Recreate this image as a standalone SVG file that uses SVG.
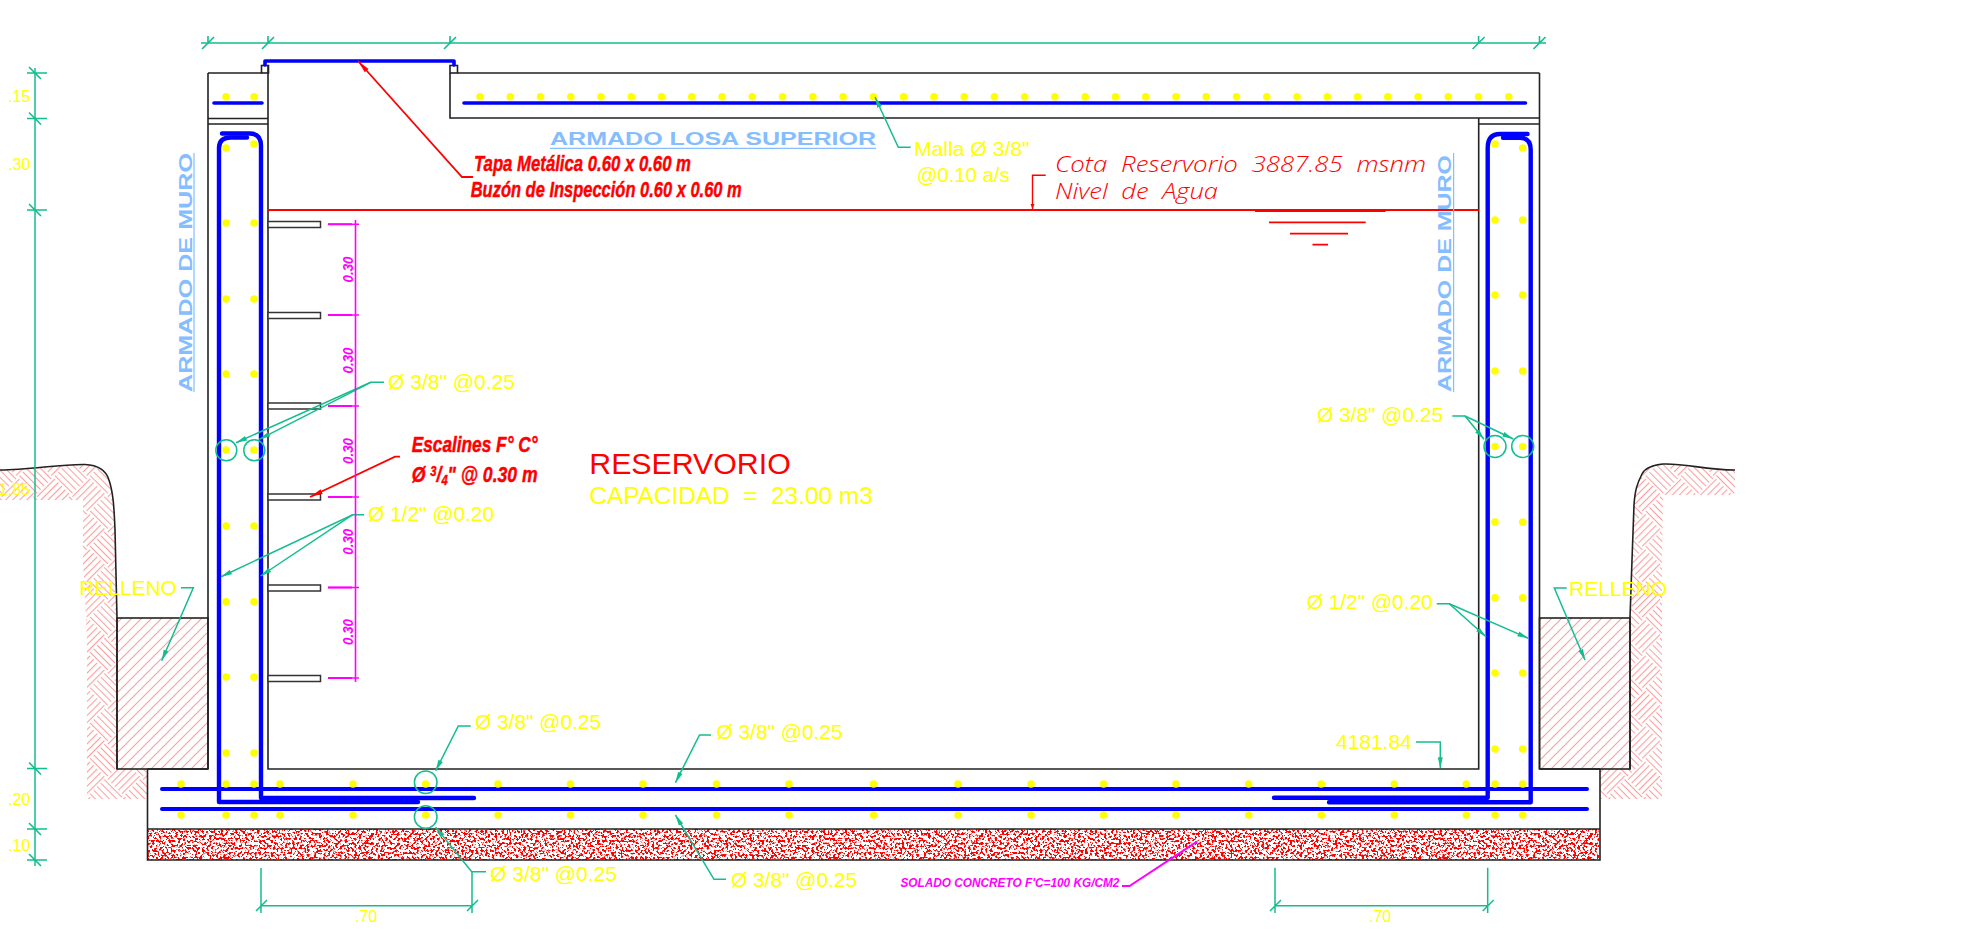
<svg xmlns="http://www.w3.org/2000/svg" width="1971" height="944" viewBox="0 0 1971 944">
<style>
text{font-family:"Liberation Sans",Arial,sans-serif}
.y{fill:#ffff00;font-size:21px}
.yd{fill:#ffff00;font-size:16px}
.b{fill:#85bdff;font-size:19px;font-weight:bold}
.r{fill:#ff0000;stroke:#ff0000;stroke-width:.45;font-size:22px;font-weight:bold;font-style:italic}
.c{fill:#ff0000;font-size:22px;font-style:italic;font-weight:300;font-family:"Open Sans","Liberation Sans",sans-serif}
.m{fill:#ff00ff;font-style:italic;font-weight:bold;font-size:14px}
.l{fill:none;stroke:#222;stroke-width:1.6}
.g{fill:none;stroke:#14bd8f;stroke-width:1.5}
.ga{fill:none;stroke:#14bd8f;stroke-width:1.5;marker-end:url(#ga)}
.rb{fill:none;stroke:#0000ff;stroke-width:4.6;stroke-linecap:round;stroke-linejoin:round}
.dot{fill:none;stroke:#ffff00;stroke-width:7.6;stroke-linecap:round}
.red{fill:none;stroke:#ff0000;stroke-width:1.8}
.mg{fill:none;stroke:#ff00ff;stroke-width:1.6}
.st{fill:#fff;stroke:#333;stroke-width:1.5}
</style>
<defs>
<marker id="ga" markerUnits="userSpaceOnUse" markerWidth="12" markerHeight="7" refX="11" refY="3.5" orient="auto"><path d="M0 1L11 3.5L0 6Z" fill="#14bd8f"/></marker>
<marker id="ra" markerUnits="userSpaceOnUse" markerWidth="14" markerHeight="8" refX="13" refY="4" orient="auto"><path d="M0 1.5L13 4L0 6.5Z" fill="#ff0000"/></marker>
<marker id="ma" markerUnits="userSpaceOnUse" markerWidth="6" markerHeight="6" refX="5" refY="3" orient="auto"><path d="M0 1L5 3L0 5Z" fill="#ff0000"/></marker>
<pattern id="hb" width="50" height="50" patternUnits="userSpaceOnUse" patternTransform="rotate(45)">
<path d="M0 2.5H25M0 7.5H25M0 12.5H25M0 17.5H25M0 22.5H25M25 27.5H50M25 32.5H50M25 37.5H50M25 42.5H50M25 47.5H50M27.5 0V25M32.5 0V25M37.5 0V25M42.5 0V25M47.5 0V25M2.5 25V50M7.5 25V50M12.5 25V50M17.5 25V50M22.5 25V50" stroke="#ff9c9c" stroke-width="1.1" fill="none"/>
</pattern>
<pattern id="dg" width="10" height="10" patternUnits="userSpaceOnUse">
<path d="M-2 2L2 -2M-2 12L12 -2M8 12L12 8" stroke="#ff9c9c" stroke-width="1.1" fill="none"/>
</pattern>
<filter id="sp" x="0" y="0" width="100%" height="100%" color-interpolation-filters="sRGB">
<feTurbulence type="fractalNoise" baseFrequency="0.42" numOctaves="2" seed="7"/>
<feColorMatrix type="matrix" values="0 0 0 0 1  0 0 0 0 0  0 0 0 0 0  14 0 0 0 -7.1"/>
</filter>
</defs>

<g id="terreno">
<path d="M0 470C30 470 60 464 85 464.5C97 465 106 470 109 480C113 492 114 505 115 530L117 618V769H147.5V799H87V640L83 560V500H0Z" fill="url(#hb)"/>
<path d="M1735 470C1705 470 1685 463 1663 464C1652 465 1645 468 1642 474C1637 484 1635 490 1634 505L1632 560L1630 618V769H1600V799H1662V560L1663 495H1735Z" fill="url(#hb)"/>
<path class="l" d="M0 470C30 470 60 464 85 464.5C97 465 106 470 109 480C113 492 114 505 115 530L117 618V769"/>
<path class="l" d="M1735 470C1705 470 1685 463 1663 464C1652 465 1645 468 1642 474C1637 484 1635 490 1634 505L1632 560L1630 618V769"/>
</g>
<g id="relleno">
<rect class="l" x="117" y="618" width="91" height="151" style="fill:url(#dg)"/>
<rect class="l" x="1539.5" y="618" width="90.5" height="151" style="fill:url(#dg)"/>
</g>
<g id="solado">
<rect x="148" y="829" width="1451" height="31" fill="#000" filter="url(#sp)"/>
<path class="l" d="M147.5 769V860H1600V769M147.5 829H1600"/>
</g>
<g id="estructura">
<path class="l" d="M208 73V769M268 65.5V769H1478.7V118M1539.5 73V769M208 73H261.5M457.5 73H1539.5M450 73V118H1539.5M208 118.5H268M208 124H268M1478.7 124H1539.5M147.5 769H208M1539.5 769H1600"/>
<rect class="l" x="261.5" y="65.5" width="7" height="7.5"/>
<rect class="l" x="450" y="65.5" width="7.5" height="7.5"/>
</g>
<g id="escalines">
<rect class="st" x="268" y="221.5" width="52.5" height="6"/>
<rect class="st" x="268" y="312.5" width="52.5" height="6"/>
<rect class="st" x="268" y="403" width="52.5" height="6"/>
<rect class="st" x="268" y="494" width="52.5" height="6"/>
<rect class="st" x="268" y="585" width="52.5" height="6"/>
<rect class="st" x="268" y="675.5" width="52.5" height="6"/>
</g>
<g id="armadura">
<path class="rb" d="M265 65V61H454V65" style="stroke-width:3.6"/>
<path class="rb" d="M214 103H262M464 103H1525.5" style="stroke-width:3.6"/>
<path class="rb" d="M247 137.5H231Q219 137.5 219 148V802H418" style="stroke-width:4.4"/>
<path class="rb" d="M222 133.5H250Q261 133.5 261 146V798H474" style="stroke-width:4.4"/>
<path class="rb" d="M1527.5 134H1500Q1487.7 134 1487.7 148V797.7H1274" style="stroke-width:4.4"/>
<path class="rb" d="M1503 137.7H1520Q1530.7 137.7 1530.7 150V802.3H1329" style="stroke-width:4.4"/>
<path class="rb" d="M162 789H1587M162 809H1587" style="stroke-width:4"/>
<path class="dot" d="M226 96.7h0M254 96.7h0M480 96.7h0M510.3 96.7h0M540.5 96.7h0M570.8 96.7h0M601 96.7h0M631.3 96.7h0M661.6 96.7h0M691.8 96.7h0M722.1 96.7h0M752.3 96.7h0M782.6 96.7h0M812.9 96.7h0M843.1 96.7h0M873.4 96.7h0M903.6 96.7h0M933.9 96.7h0M964.2 96.7h0M994.4 96.7h0M1024.7 96.7h0M1054.9 96.7h0M1085.2 96.7h0M1115.5 96.7h0M1145.7 96.7h0M1176 96.7h0M1206.2 96.7h0M1236.5 96.7h0M1266.8 96.7h0M1297 96.7h0M1327.3 96.7h0M1357.5 96.7h0M1387.8 96.7h0M1418.1 96.7h0M1448.3 96.7h0M1478.6 96.7h0M1508.8 96.7h0"/>
<path class="dot" d="M226 148h0M254 144h0M226 223h0M254 223h0M226 299h0M254 299h0M226 374h0M254 374h0M226 450h0M254 450h0M226 526h0M254 526h0M226 601.7h0M254 601.7h0M226 677h0M254 677h0M226 753h0M254 753h0M1495 144h0M1522.7 148h0M1495 220h0M1522.7 220h0M1495 295h0M1522.7 295h0M1495 371h0M1522.7 371h0M1495 446.5h0M1522.7 446.5h0M1495 522h0M1522.7 522h0M1495 597.7h0M1522.7 597.7h0M1495 673h0M1522.7 673h0M1495 749h0M1522.7 749h0"/>
<path class="dot" d="M181 784h0M226 784h0M254 784h0M280 784h0M353 784h0M425.7 784h0M498 784h0M570.5 784h0M643 784h0M716.5 784h0M789 784h0M873.6 784h0M958 784h0M1031 784h0M1103.6 784h0M1176 784h0M1248.7 784h0M1321.3 784h0M1394.3 784h0M1466.3 784h0M1495 784h0M1522.7 784h0M181 815h0M226 815h0M254 815h0M280 815h0M353 815h0M425.7 815h0M498 815h0M570.5 815h0M643 815h0M716.5 815h0M789 815h0M873.6 815h0M958 815h0M1031 815h0M1103.6 815h0M1176 815h0M1248.7 815h0M1321.3 815h0M1394.3 815h0M1466.3 815h0M1495 815h0M1522.7 815h0"/>
</g>
<g id="nivel-agua">
<path class="red" d="M268 210H1478.7"/>
<path d="M1255 210.7H1385.7" stroke="#ff0000" stroke-width="2.6" fill="none"/>
<path class="red" d="M1269 222.3H1365.7M1290 233.7H1348M1312.5 244.7H1328"/>
</g>
<g id="connectors">
<path class="g" d="M201 43H1546M35 68V866"/>
<path d="M202 49L214 37M262 49L274 37M444 49L456 37M1472.6 49L1484.6 37M1533.5 49L1545.5 37M208 36V43M268 36V43M450 36V43M1478.6 36V43M1539.5 36V43" stroke="#14bd8f" stroke-width="1.6" fill="none"/>
<path d="M27 73H47M27 118.5H47M27 210H47M27 768.5H47M27 829H47M27 860H47M29 67L41 79M29 112.5L41 124.5M29 204L41 216M29 762.5L41 774.5M29 823L41 835M29 854L41 866" stroke="#14bd8f" stroke-width="1.6" fill="none"/>
<path class="g" d="M261 868V913M472 871.7V913M256 911L267 900M467 911L478 900M261 905.7H472"/>
<path class="g" d="M1275 867.7V913M1487.7 867.7V913M1270 911L1281 900M1482.7 911L1493.7 900M1275 905.7H1487.7"/>
<circle class="g" cx="226.3" cy="450.3" r="10.5"/><circle class="g" cx="254.3" cy="450.3" r="10.5"/>
<circle class="g" cx="1495" cy="446.5" r="11"/><circle class="g" cx="1522.7" cy="446.5" r="11"/>
<circle class="g" cx="425.7" cy="782.3" r="11.3"/><circle class="g" cx="425.7" cy="817" r="11.3"/>
<path class="ga" d="M384 382.3H370.7L236 442.7"/><path class="ga" d="M370.7 382.3L259.3 439.3"/>
<path class="ga" d="M364 514.7H352.7L221 576.7"/><path class="ga" d="M352.7 514.7L260.7 576"/>
<path class="ga" d="M181 587.7H193.3L161.7 660.7"/>
<path class="ga" d="M470.7 726H458.3L435.7 770.7"/>
<path class="ga" d="M486 871.7H471.7L435.7 827.3"/>
<path class="ga" d="M711 735H699.5L675.4 782.7"/>
<path class="ga" d="M726 879.3H714L675.4 815"/>
<path class="ga" d="M1416 742H1440.3V768.3"/>
<path class="ga" d="M1452.3 416H1465L1484 439.3"/><path class="ga" d="M1465 416L1513.3 439"/>
<path class="ga" d="M1436.7 603.7H1449.3L1486 636.7"/><path class="ga" d="M1449.3 603.7L1528.3 638.3"/>
<path class="ga" d="M1566.7 588H1554.3L1585 660"/>
<path class="ga" d="M910.7 147.3H898.3L875 97"/>
<path class="red" d="M473 177H462L358 61" marker-end="url(#ra)"/>
<path class="red" d="M400 456.7H395L310 497" marker-end="url(#ra)"/>
<path d="M1045.7 175.3H1032.5V209" fill="none" stroke="#ff0000" stroke-width="1.4" marker-end="url(#ma)"/>
<path class="mg" d="M1122 886H1129.5L1197 841.7" style="stroke-width:2"/>
</g>
<g id="cotas-escalines">
<path class="mg" d="M355.5 220V682M328 224.3H359M328 315H359M328 406H359M328 497H359M328 587.5H359M328 678H359" />
<path class="mg" d="M328 224.3H352M328 315H352M328 406H352M328 497H352M328 587.5H352M328 678H352" style="stroke-width:2"/>
<text class="m" transform="translate(352.5 282.5) rotate(-90)" textLength="26" lengthAdjust="spacingAndGlyphs">0.30</text>
<text class="m" transform="translate(352.5 373.5) rotate(-90)" textLength="26" lengthAdjust="spacingAndGlyphs">0.30</text>
<text class="m" transform="translate(352.5 464) rotate(-90)" textLength="26" lengthAdjust="spacingAndGlyphs">0.30</text>
<text class="m" transform="translate(352.5 554.7) rotate(-90)" textLength="26" lengthAdjust="spacingAndGlyphs">0.30</text>
<text class="m" transform="translate(352.5 645) rotate(-90)" textLength="26" lengthAdjust="spacingAndGlyphs">0.30</text>
</g>
<g id="titulos-azules">
<text class="b" x="550" y="145" textLength="326" lengthAdjust="spacingAndGlyphs">ARMADO LOSA SUPERIOR</text>
<path d="M550 148.3H876M194 153V392M1453.6 153V392" stroke="#85bdff" stroke-width="1.2" fill="none"/>
<text class="b" transform="translate(191.7 392) rotate(-90)" textLength="239" lengthAdjust="spacingAndGlyphs">ARMADO DE MURO</text>
<text class="b" transform="translate(1450.7 392) rotate(-90)" textLength="237" lengthAdjust="spacingAndGlyphs">ARMADO DE MURO</text>
</g>
<g id="textos-rojos">
<text class="r" x="474" y="171" textLength="217" lengthAdjust="spacingAndGlyphs">Tapa Metálica 0.60 x 0.60 m</text>
<text class="r" x="470.7" y="196.7" textLength="271" lengthAdjust="spacingAndGlyphs">Buzón de Inspección 0.60 x 0.60 m</text>
<text class="r" x="411.7" y="452" textLength="126" lengthAdjust="spacingAndGlyphs">Escalines F° C°</text>
<text class="r" transform="translate(411.7 482) scale(.8 1)">Ø <tspan font-size="14" dy="-6">3</tspan><tspan dy="6">/</tspan><tspan font-size="14" dy="3">4</tspan><tspan dy="-3">" @ 0.30 m</tspan></text>
<text class="c" x="1055" y="172.3" textLength="371" lengthAdjust="spacingAndGlyphs" style="word-spacing:6px">Cota Reservorio 3887.85 msnm</text>
<text class="c" x="1055" y="199.3" textLength="163" lengthAdjust="spacingAndGlyphs" style="word-spacing:6px">Nivel de Agua</text>
<text x="589.3" y="474" fill="#ff0000" font-size="30" textLength="201.4" lengthAdjust="spacingAndGlyphs">RESERVORIO</text>
</g>
<g id="textos-amarillos">
<text class="yd" x="8" y="102">.15</text>
<text class="yd" x="8" y="170">.30</text>
<text class="yd" x="8" y="805">.20</text>
<text class="yd" x="8" y="851">.10</text>
<text class="yd" x="30" y="495" text-anchor="end">1.85</text>
<text class="yd" x="355" y="921.7">.70</text>
<text class="yd" x="1369" y="921.7">.70</text>
<text class="y" x="388" y="389" textLength="127" lengthAdjust="spacingAndGlyphs">Ø 3/8" @0.25</text>
<text class="y" x="368" y="521" textLength="126" lengthAdjust="spacingAndGlyphs">Ø 1/2" @0.20</text>
<text class="y" x="79.3" y="595" textLength="97.4" lengthAdjust="spacingAndGlyphs">RELLENO</text>
<text class="y" x="1569" y="596" textLength="98" lengthAdjust="spacingAndGlyphs">RELLENO</text>
<text class="y" x="1317" y="421.7" textLength="126" lengthAdjust="spacingAndGlyphs">Ø 3/8" @0.25</text>
<text class="y" x="1306.7" y="609" textLength="126" lengthAdjust="spacingAndGlyphs">Ø 1/2" @0.20</text>
<text class="y" x="1336" y="748.7" textLength="75.7" lengthAdjust="spacingAndGlyphs">4181.84</text>
<text class="y" x="475" y="729" textLength="126" lengthAdjust="spacingAndGlyphs">Ø 3/8" @0.25</text>
<text class="y" x="716.5" y="739" textLength="126" lengthAdjust="spacingAndGlyphs">Ø 3/8" @0.25</text>
<text class="y" x="490" y="881" textLength="127" lengthAdjust="spacingAndGlyphs">Ø 3/8" @0.25</text>
<text class="y" x="731" y="887" textLength="126" lengthAdjust="spacingAndGlyphs">Ø 3/8" @0.25</text>
<text class="y" x="914" y="155.7" textLength="115.5" lengthAdjust="spacingAndGlyphs">Malla Ø 3/8"</text>
<text class="y" x="916.7" y="181.7" textLength="93" lengthAdjust="spacingAndGlyphs">@0.10 a/s</text>
<text x="589.3" y="504" fill="#ffff00" font-size="24" style="white-space:pre" textLength="283.4" lengthAdjust="spacingAndGlyphs">CAPACIDAD  =  23.00 m3</text>
</g>
<g id="texto-solado">
<text class="m" x="900.4" y="887" style="font-size:12.5px" textLength="219" lengthAdjust="spacingAndGlyphs">SOLADO CONCRETO F'C=100 KG/CM2</text>
</g>
</svg>
